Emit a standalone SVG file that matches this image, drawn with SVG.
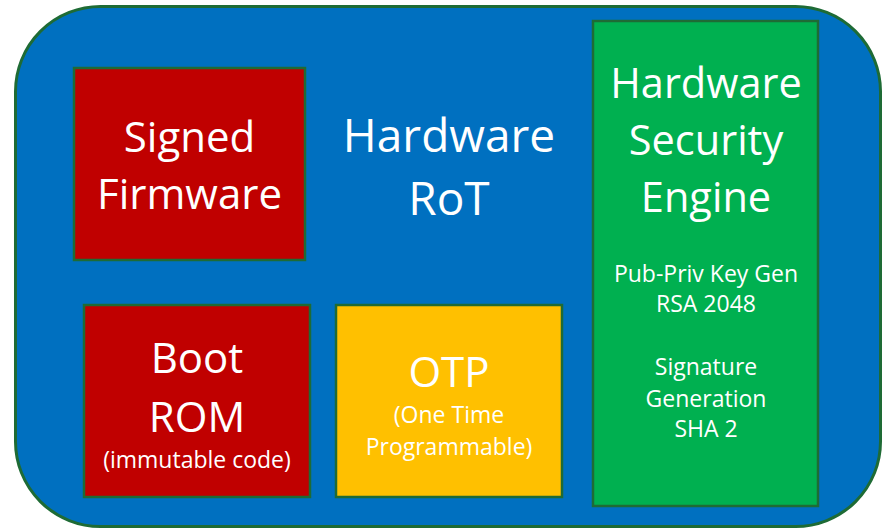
<svg xmlns="http://www.w3.org/2000/svg" width="882" height="530" viewBox="0 0 882 530">
<style>
text{font-family:"Open Sans","Liberation Sans",sans-serif;fill:#FFFFFF;text-anchor:middle}
.box{stroke:#1E6B35;stroke-width:2.5}
.big{font-size:46px}
.mid{font-size:42px}
.gt{font-size:41.5px}
.sm{font-size:23px}
.sx{font-size:23px}
</style>
<g id="rot">
<rect x="15.5" y="6.5" width="865" height="520" rx="85" ry="85" fill="#0070C0" stroke="#1E6B35" stroke-width="3"/>
<text class="big" x="449" y="152">Hardware</text>
<text class="big" x="449" y="215">RoT</text>
</g>
<g id="signed-firmware">
<rect class="box" x="74" y="68" width="231" height="192" fill="#C00000"/>
<text class="mid" x="189.5" y="152">Signed</text>
<text class="mid" x="189.5" y="209">Firmware</text>
</g>
<g id="boot-rom">
<rect class="box" x="84" y="305" width="226" height="192" fill="#C00000"/>
<text class="mid" x="197" y="373">Boot</text>
<text class="mid" x="197" y="432">ROM</text>
<text class="sm" x="197" y="468">(immutable code)</text>
</g>
<g id="otp">
<rect class="box" x="336" y="305" width="226" height="192" fill="#FFC000"/>
<text class="mid" x="449" y="387">OTP</text>
<text class="sm" x="449" y="423">(One Time</text>
<text class="sm" x="449" y="455">Programmable)</text>
</g>
<g id="hse">
<rect class="box" x="593" y="21" width="225" height="485" fill="#00B050"/>
<text class="gt" x="706" y="98">Hardware</text>
<text class="gt" x="706" y="155">Security</text>
<text class="gt" x="706" y="212">Engine</text>
<text class="sx" x="706" y="282">Pub-Priv Key Gen</text>
<text class="sx" x="706" y="312">RSA 2048</text>
<text class="sx" x="706" y="375">Signature</text>
<text class="sx" x="706" y="407">Generation</text>
<text class="sx" x="706" y="437">SHA 2</text>
</g>
<g id="connectors"></g>
</svg>
